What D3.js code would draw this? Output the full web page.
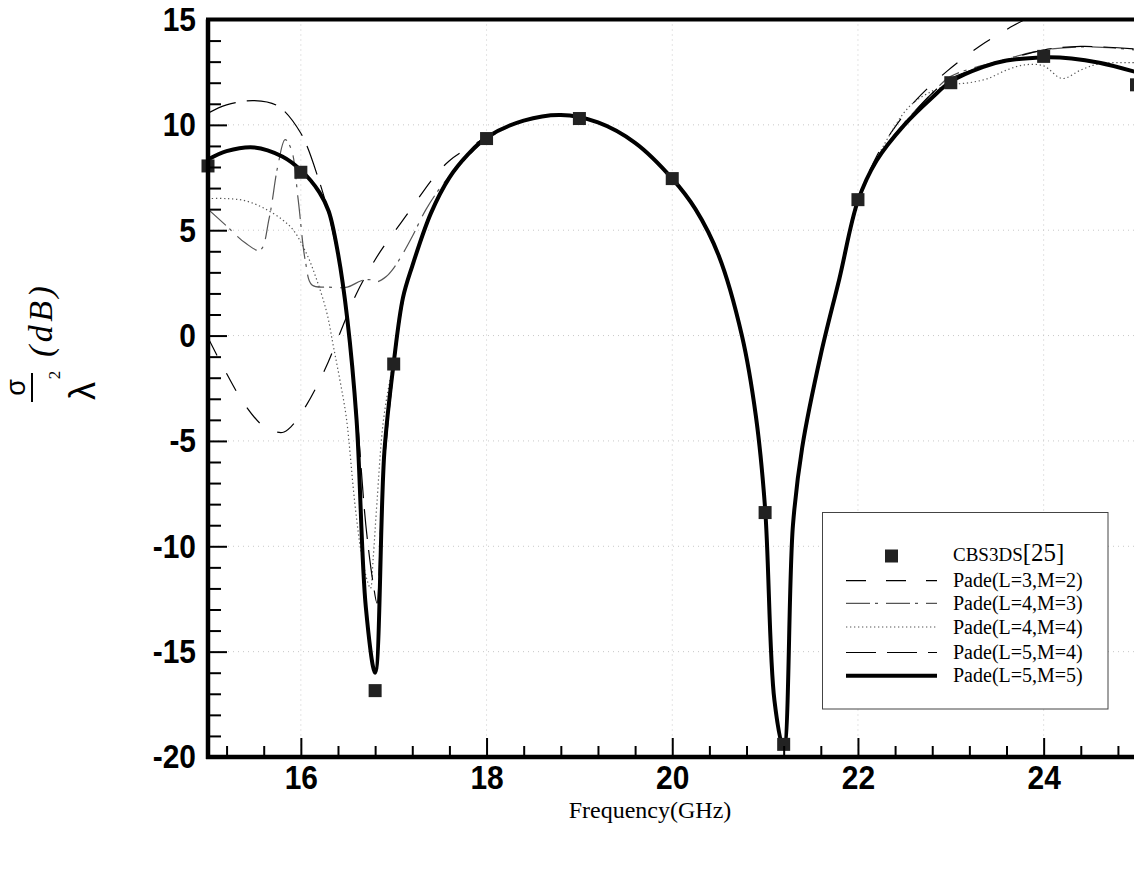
<!DOCTYPE html>
<html>
<head>
<meta charset="utf-8">
<script src="https://cdn.jsdelivr.net/npm/d3@7"></script>
<style>
  body { margin: 0; background: #fff; }
  svg { display: block; }
  .tick text { font-family: "Liberation Sans", Arial, sans-serif; font-weight: bold; font-size: 34px; fill: #000; }
</style>
</head>
<body>
<div id="container"></div>
<script>
var width = 1134,
    height = 884,
    margin = { left: 208, top: 19.5, right: -2.5, bottom: 127 },
    gWidth = width - margin.left - margin.right,
    gHeight = height - margin.top - margin.bottom;

// reference data CBS3DS[25]
var cbsFreq = [15, 16, 16.8, 17, 18, 19, 20, 21, 21.2, 22, 23, 24, 25];
var cbsVal = [8.05, 7.75, -16.85, -1.35, 9.35, 10.3, 7.45, -8.4, -19.4, 6.45, 12.0, 13.25, 11.9];

// shared middle part of all Pade curves (they coincide from ~18.4 to 22 GHz)
var midFreq = [18.4, 18.8, 19.2, 19.6, 20.0, 20.25, 20.5, 20.75, 20.9, 21.0, 21.1, 21.2, 21.3, 21.4, 21.6, 21.8, 22.0];
var midVal = [10.2, 10.47, 10.12, 9.15, 7.45, 6.0, 3.8, 0.0, -3.8, -8.2, -17.3, -19.6, -9.0, -5.3, -0.9, 2.7, 6.4];

// Pade(L=5,M=5)
var p55Freq = [15.0, 15.2, 15.5, 15.8, 16.0, 16.2, 16.3, 16.4, 16.5, 16.6, 16.7, 16.8, 16.9, 17.0, 17.1, 17.2, 17.4, 17.6, 17.8, 18.0];
var p55Val = [8.35, 8.75, 8.93, 8.5, 7.85, 6.8, 5.9, 3.9, 0.8, -4.0, -12.9, -16.0, -5.5, -1.3, 1.8, 3.3, 5.8, 7.5, 8.6, 9.4];
var p55RFreq = [22.2, 22.5, 22.8, 23.0, 23.35, 23.6, 24.0, 24.3, 24.6, 25.0];
var p55RVal = [8.3, 10.0, 11.3, 12.05, 12.75, 13.05, 13.2, 13.15, 12.95, 12.5];

// Pade(L=3,M=2)
var p32Freq = [15.0, 15.2, 15.4, 15.6, 15.8, 15.9, 16.06, 16.26, 16.42, 16.6, 16.8, 16.92, 17.07, 17.2, 17.43, 17.6, 17.8, 18.0];
var p32Val = [-0.1, -1.8, -3.3, -4.3, -4.6, -4.3, -3.3, -1.6, 0.1, 2.0, 3.6, 4.4, 5.3, 6.1, 7.5, 8.3, 8.9, 9.4];
var p32RFreq = [22.2, 22.4, 22.63, 22.96, 23.31, 23.48, 23.67, 23.85, 24.2, 24.6, 25.0];
var p32RVal = [8.5, 9.9, 11.2, 12.55, 13.73, 14.2, 14.7, 15.1, 15.7, 16.2, 16.6];

// Pade(L=4,M=3)
var p43Freq = [15.0, 15.2, 15.4, 15.56, 15.66, 15.75, 15.83, 15.9, 15.97, 16.05, 16.12, 16.3, 16.5, 16.65, 16.75, 16.82, 16.92, 17.0, 17.1, 17.2, 17.35, 17.55, 17.8, 18.0];
var p43Val = [6.0, 5.2, 4.4, 4.05, 5.6, 8.0, 9.3, 8.8, 6.5, 3.5, 2.4, 2.3, 2.3, 2.6, 2.65, 2.55, 2.8, 3.2, 3.9, 4.7, 6.0, 7.3, 8.5, 9.3];
var p43RFreq = [22.2, 22.5, 22.8, 23.0, 23.5, 24.0, 24.5, 25.0];
var p43RVal = [8.35, 10.1, 11.5, 12.3, 13.0, 13.55, 13.7, 13.55];

// Pade(L=4,M=4)
var p44Freq = [15.0, 15.2, 15.4, 15.6, 15.8, 15.92, 16.06, 16.17, 16.28, 16.35, 16.42, 16.49, 16.58, 16.65, 16.72, 16.75, 16.78, 16.82, 16.89, 17.0, 17.1, 17.2, 17.4, 17.6, 17.8, 18.0];
var p44Val = [6.5, 6.5, 6.4, 6.05, 5.5, 5.0, 3.9, 2.66, 1.08, -0.5, -2.1, -3.9, -7.9, -10.3, -11.7, -12.0, -10.5, -7.9, -4.0, -1.1, 1.7, 3.3, 5.8, 7.5, 8.6, 9.4];
var p44RFreq = [22.3, 22.56, 22.8, 23.0, 23.2, 23.4, 23.6, 23.8, 24.0, 24.2, 24.4, 24.6, 25.0];
var p44RVal = [9.2, 10.9, 11.6, 11.9, 12.0, 12.2, 12.6, 12.85, 12.8, 12.2, 12.6, 12.9, 12.95];

// Pade(L=5,M=4)
var p54Freq = [15.0, 15.2, 15.5, 15.75, 16.0, 16.2, 16.28, 16.42, 16.51, 16.6, 16.7, 16.78, 16.82, 16.86, 16.9, 17.0, 17.1, 17.2, 17.4, 17.6, 17.8, 18.0];
var p54Val = [10.55, 10.95, 11.15, 10.9, 9.6, 7.3, 6.1, 3.3, 0.3, -3.5, -9.0, -11.8, -12.7, -9.0, -6.0, -1.6, 1.6, 3.3, 5.8, 7.5, 8.6, 9.4];
var p54RFreq = [22.2, 22.5, 22.8, 23.0, 23.5, 24.0, 24.4, 25.0];
var p54RVal = [8.35, 10.05, 11.5, 12.2, 12.95, 13.55, 13.72, 13.6];

var xMajor = [16, 18, 20, 22, 24];
var yMajor = [-20, -15, -10, -5, 0, 5, 10, 15];

function joinSeries(f1, v1, f2, v2) {
    var pts = [];
    f1.forEach(function(f, i) { pts.push([f, v1[i]]); });
    midFreq.forEach(function(f, i) { pts.push([f, midVal[i]]); });
    f2.forEach(function(f, i) { pts.push([f, v2[i]]); });
    return pts;
}

var series = [
    { name: 'Pade(L=3,M=2)', pts: joinSeries(p32Freq, p32Val, p32RFreq, p32RVal), color: '#000', w: 1.2, dash: '20,20' },
    { name: 'Pade(L=4,M=3)', pts: joinSeries(p43Freq, p43Val, p43RFreq, p43RVal), color: '#555', w: 1.2, dash: '24,5,3,8' },
    { name: 'Pade(L=4,M=4)', pts: joinSeries(p44Freq, p44Val, p44RFreq, p44RVal), color: '#555', w: 1.2, dash: '1.3,2.7' },
    { name: 'Pade(L=5,M=4)', pts: joinSeries(p54Freq, p54Val, p54RFreq, p54RVal), color: '#000', w: 1.2, dash: '30,11' },
    { name: 'Pade(L=5,M=5)', pts: joinSeries(p55Freq, p55Val, p55RFreq, p55RVal), color: '#000', w: 4, dash: null }
];

//svg
var svg = d3.select('#container')
    .append('svg')
    .attr('width', width)
    .attr('height', height);
var g = svg.append('g')
    .attr('transform', 'translate(' + margin.left + ',' + margin.top + ')');

var scaleX = d3.scaleLinear()
    .domain([15, 25])
    .range([0, gWidth]);
var scaleY = d3.scaleLinear()
    .domain([-20, 15])
    .range([gHeight, 0]);

// grid
g.append('g').selectAll('line.gx')
    .data(xMajor)
    .enter().append('line')
    .attr('x1', function(d) { return scaleX(d); })
    .attr('x2', function(d) { return scaleX(d); })
    .attr('y1', 0).attr('y2', gHeight)
    .attr('stroke', '#c8c8c8').attr('stroke-width', 1).attr('stroke-dasharray', '1,4');
g.append('g').selectAll('line.gy')
    .data(yMajor.filter(function(d) { return d > -20 && d < 15; }))
    .enter().append('line')
    .attr('x1', 0).attr('x2', gWidth)
    .attr('y1', function(d) { return scaleY(d); })
    .attr('y2', function(d) { return scaleY(d); })
    .attr('stroke', '#c8c8c8').attr('stroke-width', 1).attr('stroke-dasharray', '1,4');

// curves
svg.append('clipPath').attr('id', 'plotClip')
    .append('rect').attr('x', 0).attr('y', 0).attr('width', gWidth).attr('height', gHeight);

var lineGen = d3.line()
    .x(function(d) { return scaleX(d[0]); })
    .y(function(d) { return scaleY(d[1]); })
    .curve(d3.curveCatmullRom.alpha(0.5));

var curves = g.append('g').attr('clip-path', 'url(#plotClip)');
series.forEach(function(s) {
    curves.append('path')
        .attr('d', lineGen(s.pts))
        .attr('fill', 'none')
        .attr('stroke', s.color)
        .attr('stroke-width', s.w)
        .attr('stroke-dasharray', s.dash);
});

// squares
g.selectAll('rect.cbs')
    .data(cbsFreq)
    .enter().append('rect')
    .attr('x', function(d) { return scaleX(d) - 6.5; })
    .attr('y', function(d, i) { return scaleY(cbsVal[i]) - 6.5; })
    .attr('width', 13).attr('height', 13)
    .attr('fill', '#222');

// axes (ticks point inward)
var plainFmt = function(d) { return String(d); }; // keep ascii hyphen for negatives
var xAxis = d3.axisBottom(scaleX).tickValues(xMajor).tickSize(-19).tickSizeOuter(0).tickPadding(8).tickFormat(plainFmt);
var xMinor = d3.axisBottom(scaleX)
    .tickValues(d3.range(15.2, 25, 0.4).filter(function(d) { return Math.abs(d / 2 - Math.round(d / 2)) > 0.01; }))
    .tickSize(-11).tickSizeOuter(0).tickFormat('');
var yAxis = d3.axisLeft(scaleY).tickValues(yMajor).tickSize(-19).tickSizeOuter(0).tickPadding(12).tickFormat(plainFmt);
var yMinor = d3.axisLeft(scaleY)
    .tickValues(d3.range(-19, 15, 1).filter(function(d) { return d % 5 !== 0; }))
    .tickSize(-13).tickSizeOuter(0).tickFormat('');

[xMinor, xAxis].forEach(function(ax) {
    g.append('g').attr('class', 'xax').attr('transform', 'translate(0,' + gHeight + ')').call(ax);
});
[yMinor, yAxis].forEach(function(ax) {
    g.append('g').attr('class', 'yax').call(ax);
});
g.selectAll('.tick line').attr('stroke', '#000').attr('stroke-width', 2);
g.selectAll('.domain').remove();
// narrow, tall digits like the original
g.selectAll('.xax .tick text').attr('transform', 'scale(0.88,1)');
g.selectAll('.yax .tick text').attr('x', -12 / 0.88).attr('transform', 'scale(0.88,1)');

// frame
g.append('line').attr('x1', 0).attr('x2', 0).attr('y1', 0).attr('y2', gHeight + 2)
    .attr('stroke', '#000').attr('stroke-width', 4.5);
g.append('line').attr('x1', -2).attr('x2', gWidth).attr('y1', gHeight).attr('y2', gHeight)
    .attr('stroke', '#000').attr('stroke-width', 4.5);
g.append('line').attr('x1', -2).attr('x2', gWidth).attr('y1', 0).attr('y2', 0)
    .attr('stroke', '#000').attr('stroke-width', 4);
g.append('line').attr('x1', gWidth).attr('x2', gWidth).attr('y1', 0).attr('y2', gHeight)
    .attr('stroke', '#000').attr('stroke-width', 4);

// x label
svg.append('text')
    .attr('x', 650).attr('y', 818)
    .attr('text-anchor', 'middle')
    .attr('font-family', '"Liberation Serif", "Times New Roman", serif')
    .attr('font-size', 24)
    .text('Frequency(GHz)');

// y label: sigma / lambda^2 (dB), rotated
var yl = svg.append('g').attr('transform', 'translate(0,400) rotate(-90)');
yl.append('text').attr('x', 12.5).attr('y', 25).attr('text-anchor', 'middle')
    .attr('font-family', '"Liberation Sans", Arial, sans-serif').attr('font-size', 27).text('σ');
yl.append('line').attr('x1', -2).attr('x2', 27).attr('y1', 32).attr('y2', 32)
    .attr('stroke', '#000').attr('stroke-width', 2);
yl.append('text').attr('x', 9).attr('y', 95).attr('text-anchor', 'middle')
    .attr('font-family', '"Liberation Sans", Arial, sans-serif').attr('font-size', 36).text('λ');
yl.append('text').attr('x', 25).attr('y', 60).attr('text-anchor', 'middle')
    .attr('font-family', '"Liberation Serif", "Times New Roman", serif').attr('font-size', 17).text('2');
yl.append('text').attr('x', 43).attr('y', 52)
    .attr('font-family', '"Liberation Serif", "Times New Roman", serif').attr('font-style', 'italic')
    .attr('font-size', 34).attr('letter-spacing', 3.5).text('(dB)');

// legend
var lg = svg.append('g');
lg.append('rect').attr('x', 822.5).attr('y', 512.5).attr('width', 285.5).attr('height', 196.5)
    .attr('fill', '#fff').attr('stroke', '#444').attr('stroke-width', 1);
lg.append('rect').attr('x', 885).attr('y', 549.5).attr('width', 13).attr('height', 13).attr('fill', '#222');
var cbsText = lg.append('text').attr('x', 953).attr('y', 561)
    .attr('font-family', '"Liberation Serif", "Times New Roman", serif');
cbsText.append('tspan').attr('font-size', 19).text('CBS3DS');
cbsText.append('tspan').attr('font-size', 25).text('[25]');

var rowY = [580.7, 603.3, 627, 652.5, 675.7];
series.forEach(function(s, i) {
    lg.append('line').attr('x1', 846).attr('x2', 937)
        .attr('y1', rowY[i]).attr('y2', rowY[i])
        .attr('stroke', s.color).attr('stroke-width', s.w)
        .attr('stroke-dasharray', s.dash);
    lg.append('text').attr('x', 953).attr('y', rowY[i] + 6.5)
        .attr('font-family', '"Liberation Serif", "Times New Roman", serif')
        .attr('font-size', 20)
        .text(s.name);
});
</script>
</body>
</html>
